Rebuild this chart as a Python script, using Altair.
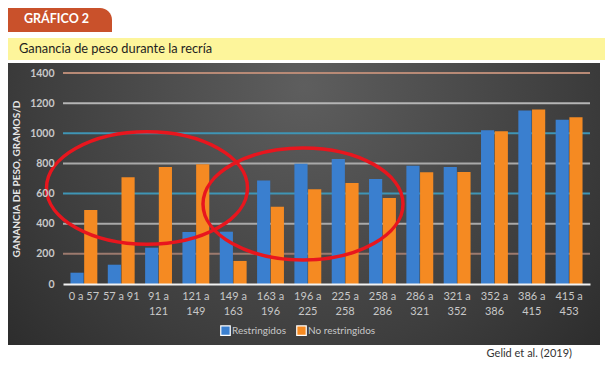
import altair as alt
import pandas as pd

categories = ["0 a 57", "57 a 91", "91 a 121", "121 a 149", "149 a 163", "163 a 196",
              "196 a 225", "225 a 258", "258 a 286", "286 a 321", "321 a 352",
              "352 a 386", "386 a 415", "415 a 453"]
restringidos = [75, 128, 241, 345, 347, 686, 798, 829, 697, 785, 776, 1020, 1152, 1090]
no_restringidos = [491, 708, 776, 794, 153, 513, 628, 670, 571, 741, 743, 1013, 1157, 1106]
series = ["Restringidos", "No restringidos"]
series_colors = ["#3a7fcf", "#f58a22"]
y_ticks = [0, 200, 400, 600, 800, 1000, 1200, 1400]
grid_values = [200, 400, 600, 800, 1000, 1200, 1400]
grid_colors = ["#9c7a6e", "#a9a9a9", "#3f95b5", "#a9a9a9", "#3f95b5", "#b5b5b5", "#b88a76"]

rows = []
for c, a, b in zip(categories, restringidos, no_restringidos):
    rows.append({"cat": c, "serie": series[0], "valor": a})
    rows.append({"cat": c, "serie": series[1], "valor": b})
df = pd.DataFrame(rows)
grid_df = pd.DataFrame({"v": grid_values, "col": grid_colors})

# annotation ellipses (hand-drawn highlight): center pixel x, center value y
ell_df = pd.DataFrame({"px": [84, 240], "val": [637, 531], "w": [201, 200]})

W, H = 527, 211
font = "Lato"
Y_TITLE = "GANANCIA DE PESO, GRAMOS/D"

y_axis = alt.Axis(values=y_ticks, format="d", labelOverlap=False, labelFlush=False,
                  grid=False, domain=False, ticks=False,
                  labelColor="#c8c8c8", labelFont=font, labelFontSize=10.5,
                  labelFontWeight="bold", labelPadding=9,
                  titleColor="#e6e6e6", titleFont=font, titleFontSize=10,
                  titleFontWeight="bold", titlePadding=8, zindex=2)
y_scale = alt.Scale(domain=[0, 1400], nice=False)

one = alt.Data(values=[{}])

panel = alt.Chart(one).mark_rect(
    color=alt.RadialGradient(
        gradient="radial", x1=0.5, y1=0.3, r1=0, x2=0.5, y2=0.3, r2=0.75,
        stops=[alt.GradientStop(color="#5e5e5e", offset=0),
               alt.GradientStop(color="#3e3e3e", offset=0.6),
               alt.GradientStop(color="#262626", offset=1)])
).encode(x=alt.value(-55), x2=alt.value(537), y=alt.value(-10), y2=alt.value(272))

band = alt.Chart(one).mark_rect(color="#fdf59b").encode(
    x=alt.value(-55), x2=alt.value(544), y=alt.value(-35), y2=alt.value(-13))

tab = alt.Chart(one).mark_rect(color="#c9512b", cornerRadiusTopRight=14).encode(
    x=alt.value(-55), x2=alt.value(49), y=alt.value(-65), y2=alt.value(-41))

tab_text = alt.Chart(one).mark_text(
    text="GRÁFICO 2", font=font, fontSize=12.5, fontWeight="bold", color="white",
    align="left", baseline="middle").encode(x=alt.value(-39), y=alt.value(-54))

title_text = alt.Chart(one).mark_text(
    text="Ganancia de peso durante la recría", font=font, fontSize=12.8, color="#1e1e1e",
    align="left", baseline="middle").encode(x=alt.value(-44), y=alt.value(-24))

src_text = alt.Chart(one).mark_text(
    text="Gelid et al. (2019)", font=font, fontSize=11, color="#333333",
    align="right", baseline="middle").encode(x=alt.value(509), y=alt.value(281))

grid = alt.Chart(grid_df).mark_rule(strokeWidth=2).encode(
    y=alt.Y("v:Q", scale=y_scale, title=Y_TITLE, axis=y_axis),
    color=alt.Color("col:N", scale=None),
)

label_expr = ("length(datum.label) > 7 ? [split(datum.label, ' a ')[0] + ' a', "
              "split(datum.label, ' a ')[1]] : datum.label")

bars = alt.Chart(df).mark_bar().encode(
    x=alt.X("cat:N", sort=categories, title=None,
            scale=alt.Scale(paddingInner=0.28),
            axis=alt.Axis(labelAngle=0, labelExpr=label_expr, labelColor="#c8c8c8",
                          labelFont=font, labelFontSize=11, labelPadding=6,
                          labelLineHeight=15, ticks=False, domainColor="#f2f2f2",
                          domainWidth=2, zindex=2)),
    xOffset=alt.XOffset("serie:N", sort=series, scale=alt.Scale(paddingInner=0.04)),
    y=alt.Y("valor:Q", scale=y_scale, title=Y_TITLE, axis=y_axis),
    color=alt.Color("serie:N", sort=series,
                    scale=alt.Scale(domain=series, range=series_colors),
                    legend=alt.Legend(title=None, orient="none", direction="horizontal",
                                      legendX=157, legendY=252, symbolType="square",
                                      symbolSize=90, symbolStrokeColor="white",
                                      symbolStrokeWidth=1.2, symbolOpacity=1,
                                      labelColor="#c8c8c8", labelFont=font,
                                      labelFontSize=10, labelOffset=1,
                                      columnPadding=8, zindex=2)),
)

ellipse_path = ("M -1 0 C -1 -0.309 -0.552 -0.56 0 -0.56 C 0.552 -0.56 1 -0.309 1 0 "
                "C 1 0.309 0.552 0.56 0 0.56 C -0.552 0.56 -1 0.309 -1 0 Z")

ellipses = alt.Chart(ell_df).mark_point(
    shape=ellipse_path, filled=False, stroke="#e8161e", strokeWidth=3.5, opacity=1
).encode(
    x=alt.X("px:Q", scale=None, axis=None),
    y=alt.Y("val:Q", scale=y_scale, title=Y_TITLE, axis=y_axis),
    size=alt.Size("w:Q", scale=alt.Scale(type="pow", exponent=2, domain=[0, 200], range=[0, 40000]), legend=None),
)

chart = alt.layer(panel, band, tab, tab_text, title_text, src_text, grid, bars, ellipses).properties(
    width=W, height=H,
    autosize=alt.AutoSizeParams(type="none"),
    padding={"left": 55, "top": 65, "right": 15, "bottom": 75},
    background="white",
).configure_view(stroke=None).resolve_scale(x="independent")

chart.save("out.html", embed_options={"renderer": "svg", "actions": False})
